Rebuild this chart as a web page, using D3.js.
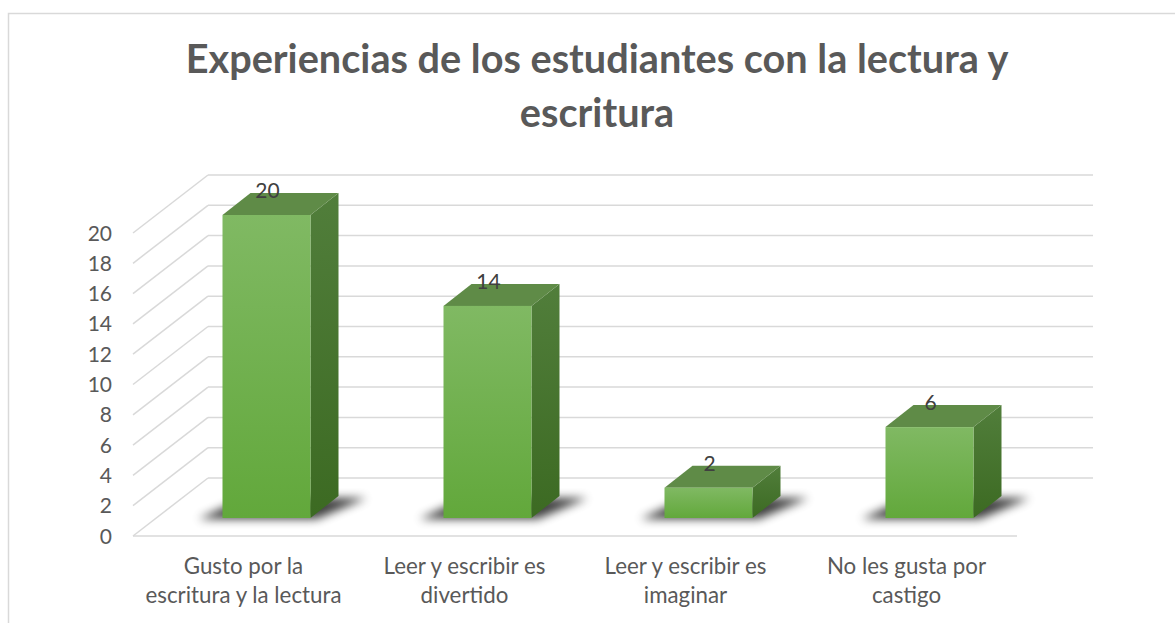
<!DOCTYPE html>
<html>
<head>
<meta charset="utf-8">
<script src="https://cdn.jsdelivr.net/npm/d3@7"></script>
<style>
  body { margin: 0; background: #fff; }
  text { font-family: Lato, "Open Sans", sans-serif; }
</style>
</head>
<body>
<svg id="chart"></svg>
<script>
const categories = ['Gusto por la escritura y la lectura', 'Leer y escribir es divertido', 'Leer y escribir es imaginar', 'No les gusta por castigo'];
const categoryLines = [['Gusto por la', 'escritura y la lectura'], ['Leer y escribir es', 'divertido'], ['Leer y escribir es', 'imaginar'], ['No les gusta por', 'castigo']];
const values = [20, 14, 2, 6];
const yTicks = [0, 2, 4, 6, 8, 10, 12, 14, 16, 18, 20];
const titleLines = ['Experiencias de los estudiantes con la lectura y', 'escritura'];

const width = 1175, height = 623;
const svg = d3.select('#chart').attr('width', width).attr('height', height);

// floor depth (front -> back wall)
const depthX = 75, depthY = 58;
// bar geometry
const barW = 88, barShiftX = 23, barShiftY = 18, barDX = 28, barDY = 22;

const x = d3.scaleBand().domain(categories).range([133, 1017]);
const y = d3.scaleLinear().domain([0, 20]).range([478, 175]); // on the back wall

const defs = svg.append('defs');
function vGrad(id, c1, c2) {
  const g = defs.append('linearGradient').attr('id', id).attr('x1', 0).attr('y1', 0).attr('x2', 0).attr('y2', 1);
  g.append('stop').attr('offset', '0%').attr('stop-color', c1);
  g.append('stop').attr('offset', '100%').attr('stop-color', c2);
}
vGrad('front', '#80b963', '#62a83b');
vGrad('side', '#517e3b', '#3c6a22');
defs.append('filter').attr('id', 'blur').attr('x', '-50%').attr('y', '-50%').attr('width', '200%').attr('height', '200%')
  .append('feGaussianBlur').attr('stdDeviation', 5);

// chart border
svg.append('path').attr('d', `M8.5,${height} V13.5 H${width}`)
  .attr('fill', 'none').attr('stroke', '#d9d9d9').attr('stroke-width', 1.5);

// title
const title = svg.append('text').attr('text-anchor', 'middle').attr('fill', '#595959')
  .style('font-weight', 700).style('font-size', '40px');
titleLines.forEach((t, i) => {
  title.append('tspan').attr('x', 597).attr('y', 73 + i * 54).text(t);
});
// fit title width to the reference
const tw = title.select('tspan').node().getComputedTextLength();
title.style('font-size', (40 * 823 / tw) + 'px');

// gridlines: back wall + side wall
const grid = svg.append('g').attr('stroke', '#d9d9d9').attr('stroke-width', 1.5).attr('fill', 'none');
yTicks.forEach((t) => {
  grid.append('line').attr('x1', 133 + depthX).attr('x2', 1093).attr('y1', y(t)).attr('y2', y(t));
  grid.append('line').attr('x1', 133).attr('y1', y(t) + depthY).attr('x2', 133 + depthX).attr('y2', y(t));
});
// floor front edge
grid.append('line').attr('x1', 133).attr('x2', 1017).attr('y1', y(0) + depthY).attr('y2', y(0) + depthY);

// y tick labels
const tickG = svg.append('g').attr('fill', '#595959').attr('text-anchor', 'end');
yTicks.forEach((t) => {
  tickG.append('text').attr('x', 112).attr('y', y(t) + depthY).attr('dy', '0.36em')
    .style('font-size', '21px').text(t);
});

// bars
const bars = svg.append('g');
categories.forEach((c, i) => {
  const v = values[i];
  const fx = x(c) + x.bandwidth() / 2 - barW / 2 + barShiftX;
  const fb = y(0) + depthY - barShiftY;
  const h = y(0) - y(v);
  const ft = fb - h;
  const g = bars.append('g');
  // shadow
  g.append('polygon')
    .attr('points', [[fx - 24, fb + 1], [fx + barW + 6, fb + 1], [fx + barW + barDX + 28, fb - barDY + 2], [fx + barDX - 6, fb - barDY + 2]].join(' '))
    .attr('fill', '#000').attr('opacity', 0.75).attr('filter', 'url(#blur)');
  // side face
  g.append('polygon')
    .attr('points', [[fx + barW, ft], [fx + barW + barDX, ft - barDY], [fx + barW + barDX, fb - barDY], [fx + barW, fb]].join(' '))
    .attr('fill', 'url(#side)');
  // top face
  g.append('polygon')
    .attr('points', [[fx, ft], [fx + barDX, ft - barDY], [fx + barW + barDX, ft - barDY], [fx + barW, ft]].join(' '))
    .attr('fill', '#5f8b47');
  // front face
  g.append('rect').attr('x', fx).attr('y', ft).attr('width', barW).attr('height', h)
    .attr('fill', 'url(#front)');
  // value label
  g.append('text').attr('x', fx + barW / 2 + 1).attr('y', ft - barDY + 5)
    .attr('text-anchor', 'middle').attr('fill', '#404040').style('font-size', '21px').text(v);
});

// category labels
const catG = svg.append('g').attr('fill', '#595959').attr('text-anchor', 'middle');
categories.forEach((c, i) => {
  const t = catG.append('text').attr('class', 'cat').style('font-size', '20px');
  categoryLines[i].forEach((line, j) => {
    t.append('tspan').attr('x', x(c) + x.bandwidth() / 2).attr('y', 574 + j * 29).text(line);
  });
});
// fit category font to the reference width of the longest line
const cw = catG.selectAll('tspan').nodes()[1].getComputedTextLength();
catG.selectAll('text').style('font-size', (20 * 196 / cw) + 'px');
</script>
</body>
</html>
